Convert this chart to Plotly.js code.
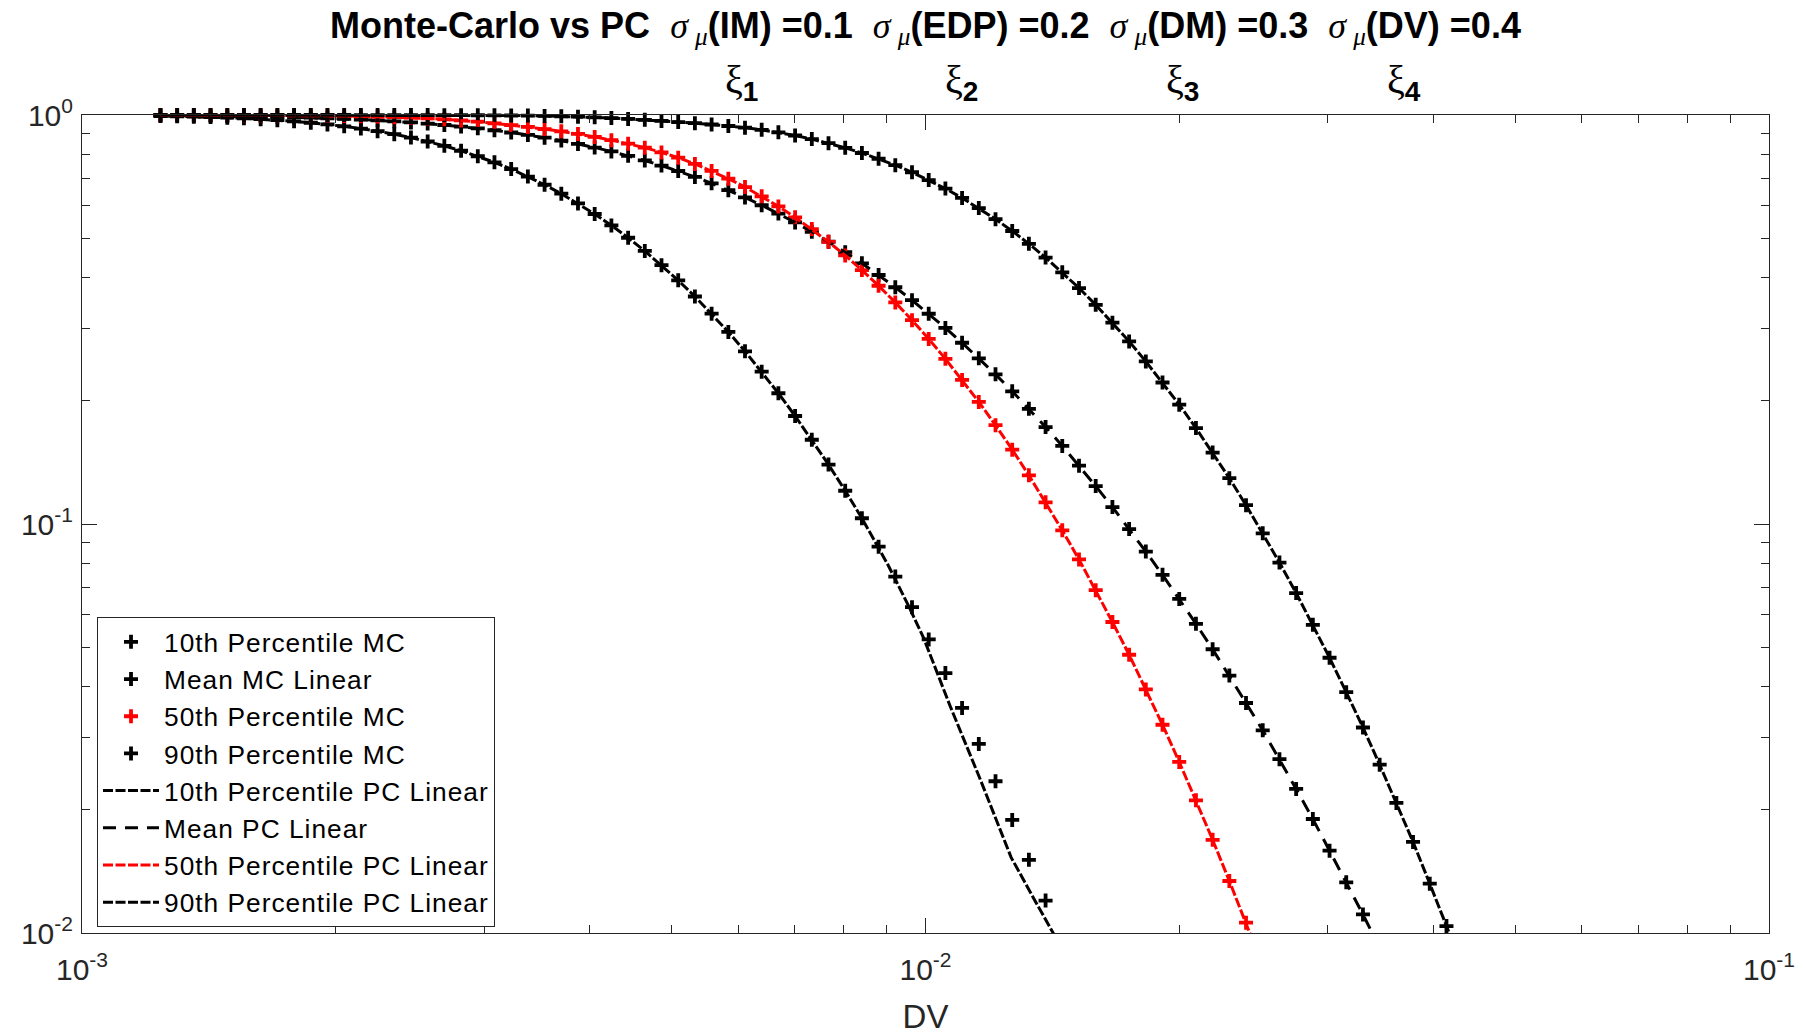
<!DOCTYPE html>
<html><head><meta charset="utf-8">
<script src="https://cdn.plot.ly/plotly-3.0.1.min.js"></script>
<style>html,body{margin:0;padding:0;background:#fff}</style>
</head><body><div id="chart" style="width:1806px;height:1035px"></div>
<script>
// DV grid (shared by MC markers and PC lines)
const dv = [0.0012388,0.0012966,0.0013570,0.0014204,0.0014868,0.0015559,0.0016285,0.0017046,0.0017841,0.0018675,
0.0019543,0.0020456,0.0021410,0.0022409,0.0023455,0.0024547,0.0025692,0.0026890,0.0028146,0.0029460,
0.0030831,0.0032271,0.0033776,0.0035351,0.0037002,0.0038726,0.0040532,0.0042423,0.0044405,0.0046475,
0.0048641,0.0050911,0.0053287,0.0055772,0.0058379,0.0061095,0.0063941,0.0066926,0.0070049,0.0073318,
0.0076736,0.0080315,0.0084064,0.0087980,0.0092087,0.0096384,0.010088,0.010558,0.011050,0.011566,
0.012106,0.012671,0.013261,0.013879,0.014526,0.015205,0.015914,0.016657,0.017434,0.018247,
0.019098,0.019989,0.020923,0.021898,0.022920,0.023988,0.025107,0.026280,0.027505,0.028789,
0.030131,0.031536,0.033008,0.034548,0.036160,0.037844,0.039610,0.041459,0.043394];

// Monte-Carlo exceedance values
const mc10 = [0.9944,0.9927,0.9907,0.9882,0.9851,0.9813,0.9768,0.9714,0.9649,0.9573,
0.9484,0.9381,0.9264,0.9129,0.8976,0.8805,0.8615,0.8406,0.8177,0.7928,
0.7660,0.7375,0.7071,0.6753,0.6421,0.6079,0.5728,0.5371,0.5011,0.4651,
0.4293,0.3942,0.3599,0.3267,0.2948,0.2644,0.2357,0.2088,0.1837,0.1607,
0.1397,0.1206,0.1033,0.0880,0.0744,0.0626,0.0522,0.0432,0.0355,0.0290,
0.0235,0.0189,0.0151,0.0120];
const mcMean = [0.9975,0.9969,0.9961,0.9952,0.9941,0.9929,0.9913,0.9895,0.9874,0.9849,
0.9820,0.9786,0.9747,0.9702,0.9651,0.9593,0.9527,0.9452,0.9370,0.9278,
0.9176,0.9063,0.8940,0.8803,0.8657,0.8497,0.8326,0.8144,0.7948,0.7742,
0.7523,0.7295,0.7057,0.6808,0.6551,0.6287,0.6017,0.5742,0.5463,0.5182,
0.4900,0.4619,0.4339,0.4063,0.3792,0.3526,0.3266,0.3016,0.2774,0.2542,
0.2322,0.2111,0.1913,0.1726,0.1552,0.1389,0.1238,0.1100,0.0972,0.0856,
0.0751,0.0656,0.0570,0.0494,0.0426,0.0365,0.0313,0.0266,0.0225,0.0190,
0.0159,0.0133,0.0111];
const mc50 = [0.9999,0.9998,0.9997,0.9996,0.9994,0.9992,0.9989,0.9986,0.9981,0.9975,
0.9965,0.9950,0.9930,0.9910,0.9880,0.9850,0.9810,0.9760,0.9700,0.9630,
0.9540,0.9450,0.9350,0.9240,0.9120,0.8990,0.8840,0.8680,0.8510,0.8320,
0.8100,0.7865,0.7591,0.7298,0.6988,0.6663,0.6326,0.5978,0.5622,0.5260,
0.4897,0.4535,0.4176,0.3824,0.3482,0.3151,0.2835,0.2534,0.2251,0.1988,
0.1744,0.1520,0.1315,0.1130,0.0965,0.0819,0.0689,0.0576,0.0479,0.0394,
0.0323,0.0262,0.0211,0.0169,0.0134,0.0106];
const mc90 = [1.0,1.0,1.0,1.0,1.0,1.0,1.0,1.0,1.0,0.9999,
0.9999,0.9999,0.9998,0.9998,0.9997,0.9996,0.9994,0.9992,0.9989,0.9985,
0.9979,0.9972,0.9965,0.9950,0.9930,0.9905,0.9870,0.9830,0.9780,0.9730,
0.9670,0.9610,0.9550,0.9480,0.9400,0.9310,0.9200,0.9070,0.8910,0.8731,
0.8532,0.8313,0.8074,0.7816,0.7539,0.7244,0.6933,0.6607,0.6269,0.5920,
0.5564,0.5204,0.4842,0.4481,0.4124,0.3775,0.3435,0.3107,0.2795,0.2497,
0.2218,0.1958,0.1716,0.1495,0.1294,0.1112,0.0949,0.0805,0.0678,0.0567,
0.0471,0.0388,0.0318,0.0258,0.0208,0.0167,0.0132,0.0104];

// Polynomial-chaos lines
const pc10UpperY = mc10.slice(0, 43);
const pc10TailX = [0.009028,0.009548,0.009954,0.010695,0.011610,0.012633,0.013433,0.014171,0.014622];
const pc10TailY = [0.0794,0.0631,0.0525,0.0359,0.02377,0.01531,0.01216,0.0100,0.00891];
const pcMean = mcMean.concat([0.0092]);
const pc50 = mc50.concat([0.0083]);
const pc90 = mc90.concat([0.0082]);

// Axis ticks
const xTickVals = [0.001, 0.01, 0.1];
const xTickText = ['10<sup>-3</sup>', '10<sup>-2</sup>', '10<sup>-1</sup>'];
const xMinorVals = [0.002,0.003,0.004,0.005,0.006,0.007,0.008,0.009,0.02,0.03,0.04,0.05,0.06,0.07,0.08,0.09];
const yTickVals = [0.01, 0.1, 1];
const yTickText = ['10<sup>-2</sup>', '10<sup>-1</sup>', '10<sup>0</sup>'];
const yMinorVals = [0.02,0.03,0.04,0.05,0.06,0.07,0.08,0.09,0.2,0.3,0.4,0.5,0.6,0.7,0.8,0.9];

// Legend labels
const names = ['10th Percentile MC', 'Mean MC Linear', '50th Percentile MC', '90th Percentile MC',
  '10th Percentile PC Linear', 'Mean PC Linear', '50th Percentile PC Linear', '90th Percentile PC Linear'];

const AX = '#262626';
const FONT = 'Liberation Sans, Arial, Helvetica, sans-serif';
const RED = '#ff0000';
const lbl = (s) => '<span style="letter-spacing:1px">' + s + '</span>';

function mk(name, y, color) {
  return {type:'scatter', mode:'markers', name:lbl(name), x:dv, y:y, cliponaxis:false,
    marker:{symbol:'cross-thin', size:10, color:color, line:{width:3.8, color:color}}};
}
function ln(name, x, y, color, dash) {
  return {type:'scatter', mode:'lines', name:lbl(name), x:x, y:y,
    line:{color:color, dash:dash, width:3}};
}
const dashPC = '10px,2.5px';
const dashMean = '13px,9px';

const traces = [
  mk(names[0], mc10, '#000'),
  mk(names[1], mcMean, '#000'),
  mk(names[2], mc50, RED),
  mk(names[3], mc90, '#000'),
  ln(names[4], dv.slice(0, 43).concat(pc10TailX), pc10UpperY.concat(pc10TailY), '#000', dashPC),
  ln(names[5], dv, pcMean, '#000', dashMean),
  ln(names[6], dv, pc50, RED, dashPC),
  ln(names[7], dv, pc90, '#000', dashPC)
];

const SIG = '<span style="font-family:Liberation Serif;font-weight:normal"><i>σ</i>\u2009<sub><i>μ</i></sub></span>';
const S2 = '\u00a0\u00a0';
const titleText = '<b>Monte-Carlo vs PC' + S2 + SIG + '(IM) =0.1' + S2 + SIG + '(EDP) =0.2' + S2 +
  SIG + '(DM) =0.3' + S2 + SIG + '(DV) =0.4</b>';

const xiPos = [0.391, 0.5216, 0.6526, 0.7837];
const xiSub = ['1', '2', '3', '4'];
const annotations = xiPos.map((p, i) => ({
  xref:'paper', yref:'paper', x:p, y:1.040, xanchor:'center', yanchor:'middle', showarrow:false,
  text:'<span style="font-family:Liberation Serif">ξ</span><sub><b>' + xiSub[i] + '</b></sub>',
  font:{size:40, color:'#000', family:FONT}
}));

const axisCommon = {
  type:'log', tickmode:'array', ticks:'inside', ticklen:15, tickwidth:1, tickcolor:AX,
  showline:true, linecolor:AX, linewidth:1, mirror:'ticks', showgrid:false, zeroline:false,
  tickfont:{size:30, color:AX, family:FONT}, automargin:false
};

const layout = {
  width:1806, height:1035,
  margin:{l:82, r:37, t:115, b:102, pad:0},
  paper_bgcolor:'#ffffff', plot_bgcolor:'#ffffff',
  font:{family:FONT, color:'#000', size:28},
  showlegend:true,
  title:{text:titleText, x:0.5, xref:'paper', xanchor:'center', y:0.9758, yref:'container', yanchor:'middle',
    font:{size:36, color:'#000', family:FONT}},
  xaxis:Object.assign({}, axisCommon, {
    range:[-3, -1], tickvals:xTickVals, ticktext:xTickText, ticklabelstandoff:10,
    minor:{tickmode:'array', tickvals:xMinorVals, ticks:'inside', ticklen:8, tickwidth:1, tickcolor:AX, showgrid:false},
    title:{text:'DV', font:{size:33, color:AX, family:FONT}, standoff:30}
  }),
  yaxis:Object.assign({}, axisCommon, {
    range:[-2, 0], tickvals:yTickVals, ticktext:yTickText, ticklabelstandoff:2,
    minor:{tickmode:'array', tickvals:yMinorVals, ticks:'inside', ticklen:8, tickwidth:1, tickcolor:AX, showgrid:false}
  }),
  legend:{x:0.0089, y:0.386, xanchor:'left', yanchor:'top', bgcolor:'#ffffff', bordercolor:AX, borderwidth:1,
    font:{size:26.3, color:'#000', family:FONT}, itemwidth:56, tracegroupgap:0},
  annotations:annotations
};

Plotly.newPlot('chart', traces, layout, {displayModeBar:false, staticPlot:true});
</script>
</body></html>
